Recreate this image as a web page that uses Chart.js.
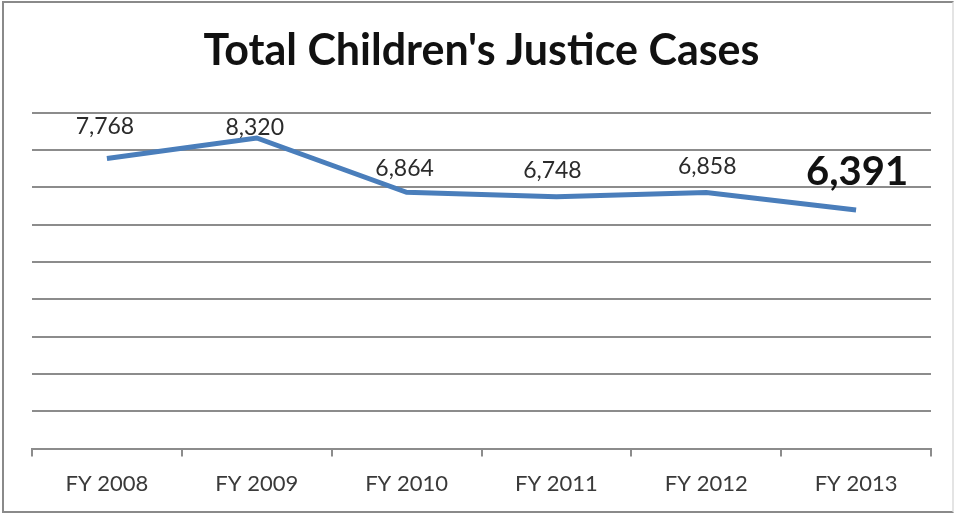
<!DOCTYPE html>
<html>
<head>
<meta charset="utf-8">
<script src="https://cdn.jsdelivr.net/npm/chart.js@4.4.1/dist/chart.umd.min.js"></script>
<style>
  html, body { margin: 0; padding: 0; background: #ffffff; }
  #frame {
    position: absolute; left: 2px; top: 1px; width: 952px; height: 512px;
    border-top: 2px solid #8a8a8a; border-left: 2px solid #8a8a8a;
    border-bottom: 2px solid #8a8a8a; border-right: 2px solid #e4e4e4;
    box-sizing: border-box; pointer-events: none;
  }
  canvas { position: absolute; left: 0; top: 0; }
</style>
</head>
<body>
<canvas id="chart" width="959" height="517"></canvas>
<div id="frame"></div>
<script>
// Fiscal years and total case counts
const years = ["FY 2008", "FY 2009", "FY 2010", "FY 2011", "FY 2012", "FY 2013"];
const totalCases = [7768, 8320, 6864, 6748, 6858, 6391];
const axisMax = 9000;
const axisStep = 1000;

// Value labels above each point; the latest year is emphasised
const labelLift = [32, 10, 24, 26, 26, 38];
const labelShift = [-2, -2, -2, -4, 1, 1];

const valueLabels = {
  id: 'valueLabels',
  afterDatasetsDraw(chart) {
    const ctx = chart.ctx;
    const meta = chart.getDatasetMeta(0);
    ctx.save();
    ctx.textAlign = 'center';
    ctx.textBaseline = 'middle';
    meta.data.forEach((pt, i) => {
      const last = i === totalCases.length - 1;
      ctx.font = last ? 'bold 40px Lato' : '23px Lato';
      ctx.fillStyle = last ? '#111111' : '#2b2b2b';
      ctx.fillText(totalCases[i].toLocaleString('en-US'), pt.x + labelShift[i], pt.y - labelLift[i]);
    });
    ctx.restore();
  }
};

new Chart(document.getElementById('chart'), {
  type: 'line',
  data: {
    labels: years,
    datasets: [{
      data: totalCases,
      borderColor: '#4a7ebb',
      borderWidth: 5,
      pointRadius: 0,
      tension: 0,
      fill: false
    }]
  },
  options: {
    responsive: false,
    animation: false,
    layout: { padding: { left: 32, right: 28, top: 0, bottom: 6 } },
    plugins: {
      legend: { display: false },
      tooltip: { enabled: false },
      title: {
        display: true,
        text: "Total Children's Justice Cases",
        color: '#111111',
        font: { family: 'Lato', size: 43, weight: 'bold' },
        padding: { top: 25, bottom: 36 }
      }
    },
    scales: {
      x: {
        offset: true,
        grid: {
          offset: true,
          drawOnChartArea: false,
          drawTicks: true,
          tickLength: 8,
          color: '#8c8c8c',
          lineWidth: 2
        },
        border: { display: true, color: '#8c8c8c', width: 2 },
        ticks: {
          color: '#3a3a3a',
          font: { family: 'Lato', size: 22 },
          padding: 14,
          maxRotation: 0
        }
      },
      y: {
        min: 0,
        max: axisMax,
        afterFit(scale) { scale.width = 0; },
        grid: { color: '#8c8c8c', lineWidth: 2, drawTicks: false },
        border: { display: false },
        ticks: { display: false, stepSize: axisStep }
      }
    }
  },
  plugins: [valueLabels]
});
</script>
</body>
</html>
